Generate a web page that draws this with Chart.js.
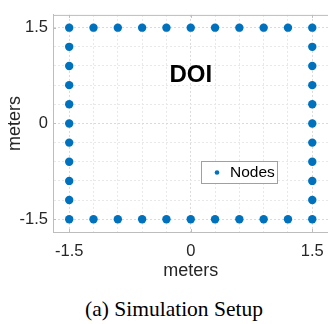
<!DOCTYPE html>
<html>
<head>
<meta charset="utf-8">
<script src="https://cdn.jsdelivr.net/npm/chart.js@4"></script>
<style>
  html, body { margin: 0; padding: 0; background: #fff; overflow: hidden; width: 328px; height: 324px; }
  #wrap { position: absolute; left: 0; top: 0; width: 334px; height: 282px; }
  #caption {
    position: absolute; left: 10px; top: 297px; width: 328px; text-align: center;
    font-family: "Liberation Serif", "Times New Roman", serif; font-size: 21.5px; line-height: 24px; color: #000;
  }
</style>
</head>
<body>
<div id="wrap"><canvas id="setupChart"></canvas></div>
<div id="caption">(a) Simulation Setup</div>
<script>
// Node positions (meters), going round the square
const nodesX = [-1.5, -1.2, -0.9, -0.6, -0.3, 0, 0.3, 0.6, 0.9, 1.2, 1.5,
                1.5, 1.5, 1.5, 1.5, 1.5, 1.5, 1.5, 1.5, 1.5, 1.5,
                1.2, 0.9, 0.6, 0.3, 0, -0.3, -0.6, -0.9, -1.2, -1.5,
                -1.5, -1.5, -1.5, -1.5, -1.5, -1.5, -1.5, -1.5, -1.5];
const nodesY = [1.5, 1.5, 1.5, 1.5, 1.5, 1.5, 1.5, 1.5, 1.5, 1.5, 1.5,
                1.2, 0.9, 0.6, 0.3, 0, -0.3, -0.6, -0.9, -1.2, -1.5,
                -1.5, -1.5, -1.5, -1.5, -1.5, -1.5, -1.5, -1.5, -1.5, -1.5,
                -1.2, -0.9, -0.6, -0.3, 0, 0.3, 0.6, 0.9, 1.2];
const gridSteps = [-1.5, -1.2, -0.9, -0.6, -0.3, 0, 0.3, 0.6, 0.9, 1.2, 1.5];
const tickLabels = [-1.5, 0, 1.5];
const axisLimits = [-1.7, 1.7];
const regionLabel = { text: 'DOI', x: 0, y: 0.76 };

const SANS = '"Liberation Sans", Arial, Helvetica, sans-serif';
const BLUE = '#0072BD';
const AXIS = '#bdbdbd';

// -------- frame, inner ticks, DOI label, legend --------
const decor = {
  id: 'decor',
  beforeDatasetsDraw(chart) {
    const {ctx, chartArea: a, scales: {x, y}} = chart;
    ctx.save();
    ctx.strokeStyle = AXIS;
    ctx.lineWidth = 1;
    ctx.strokeRect(a.left + 0.5, a.top + 0.5, a.right - a.left, a.bottom - a.top);
    ctx.beginPath();
    tickLabels.forEach(v => {
      const px = Math.round(x.getPixelForValue(v)) + 0.5;
      ctx.moveTo(px, a.bottom); ctx.lineTo(px, a.bottom - 3);
      ctx.moveTo(px, a.top); ctx.lineTo(px, a.top + 3);
      const py = Math.round(y.getPixelForValue(v)) + 0.5;
      ctx.moveTo(a.left, py); ctx.lineTo(a.left + 3, py);
    });
    ctx.stroke();
    ctx.restore();
  },
  afterDatasetsDraw(chart) {
    const {ctx, scales: {x, y}} = chart;
    ctx.save();
    ctx.fillStyle = '#000';
    ctx.font = 'bold 24px ' + SANS;
    ctx.textAlign = 'center';
    ctx.textBaseline = 'middle';
    ctx.fillText(regionLabel.text, x.getPixelForValue(regionLabel.x), y.getPixelForValue(regionLabel.y));

    // legend box
    const bx = 201, by = 161, bw = 76, bh = 22;
    ctx.fillStyle = '#fff';
    ctx.fillRect(bx, by, bw, bh);
    ctx.strokeStyle = '#a0a0a0';
    ctx.strokeRect(bx + 0.5, by + 0.5, bw, bh);
    ctx.fillStyle = BLUE;
    ctx.beginPath();
    ctx.arc(217, by + bh / 2 + 0.5, 2.3, 0, Math.PI * 2);
    ctx.fill();
    ctx.fillStyle = '#000';
    ctx.font = '15.5px ' + SANS;
    ctx.textAlign = 'left';
    ctx.fillText(chart.data.datasets[0].label, 230, by + bh / 2 + 1);
    ctx.restore();
  }
};

const axisOpts = (isX) => ({
  type: 'linear',
  min: axisLimits[0],
  max: axisLimits[1],
  afterBuildTicks: s => { s.ticks = gridSteps.map(v => ({ value: v })); },
  afterFit: s => { if (isX) s.height = 50; else s.width = 53; },
  ticks: {
    autoSkip: false,
    maxRotation: 0,
    padding: isX ? 10 : 5,
    color: '#262626',
    font: { family: SANS, size: 16.5 },
    callback: v => tickLabels.includes(v) ? String(v) : ''
  },
  grid: {
    drawTicks: false,
    color: c => (c.tick && tickLabels.includes(c.tick.value)) ? '#dadada' : '#e8e8e8',
    lineWidth: 1
  },
  border: { display: true, color: AXIS, dash: [2, 2] },
  title: {
    display: true,
    text: 'meters',
    color: '#262626',
    font: { family: SANS, size: 18 },
    padding: isX ? { top: 0, bottom: 0 } : { top: 4, bottom: 0 }
  }
});

const ctx = document.getElementById('setupChart').getContext('2d');
new Chart(ctx, {
  type: 'scatter',
  data: {
    datasets: [{
      label: 'Nodes',
      data: nodesX.map((v, i) => ({ x: v, y: nodesY[i] })),
      backgroundColor: BLUE,
      borderWidth: 0,
      pointRadius: 4.2,
      pointHoverRadius: 4.2
    }]
  },
  options: {
    responsive: true,
    maintainAspectRatio: false,
    animation: false,
    layout: { padding: { top: 2, right: 3, left: 0, bottom: 0 } },
    plugins: { legend: { display: false }, tooltip: { enabled: false } },
    scales: { x: axisOpts(true), y: axisOpts(false) }
  },
  plugins: [decor]
});
</script>
</body>
</html>
